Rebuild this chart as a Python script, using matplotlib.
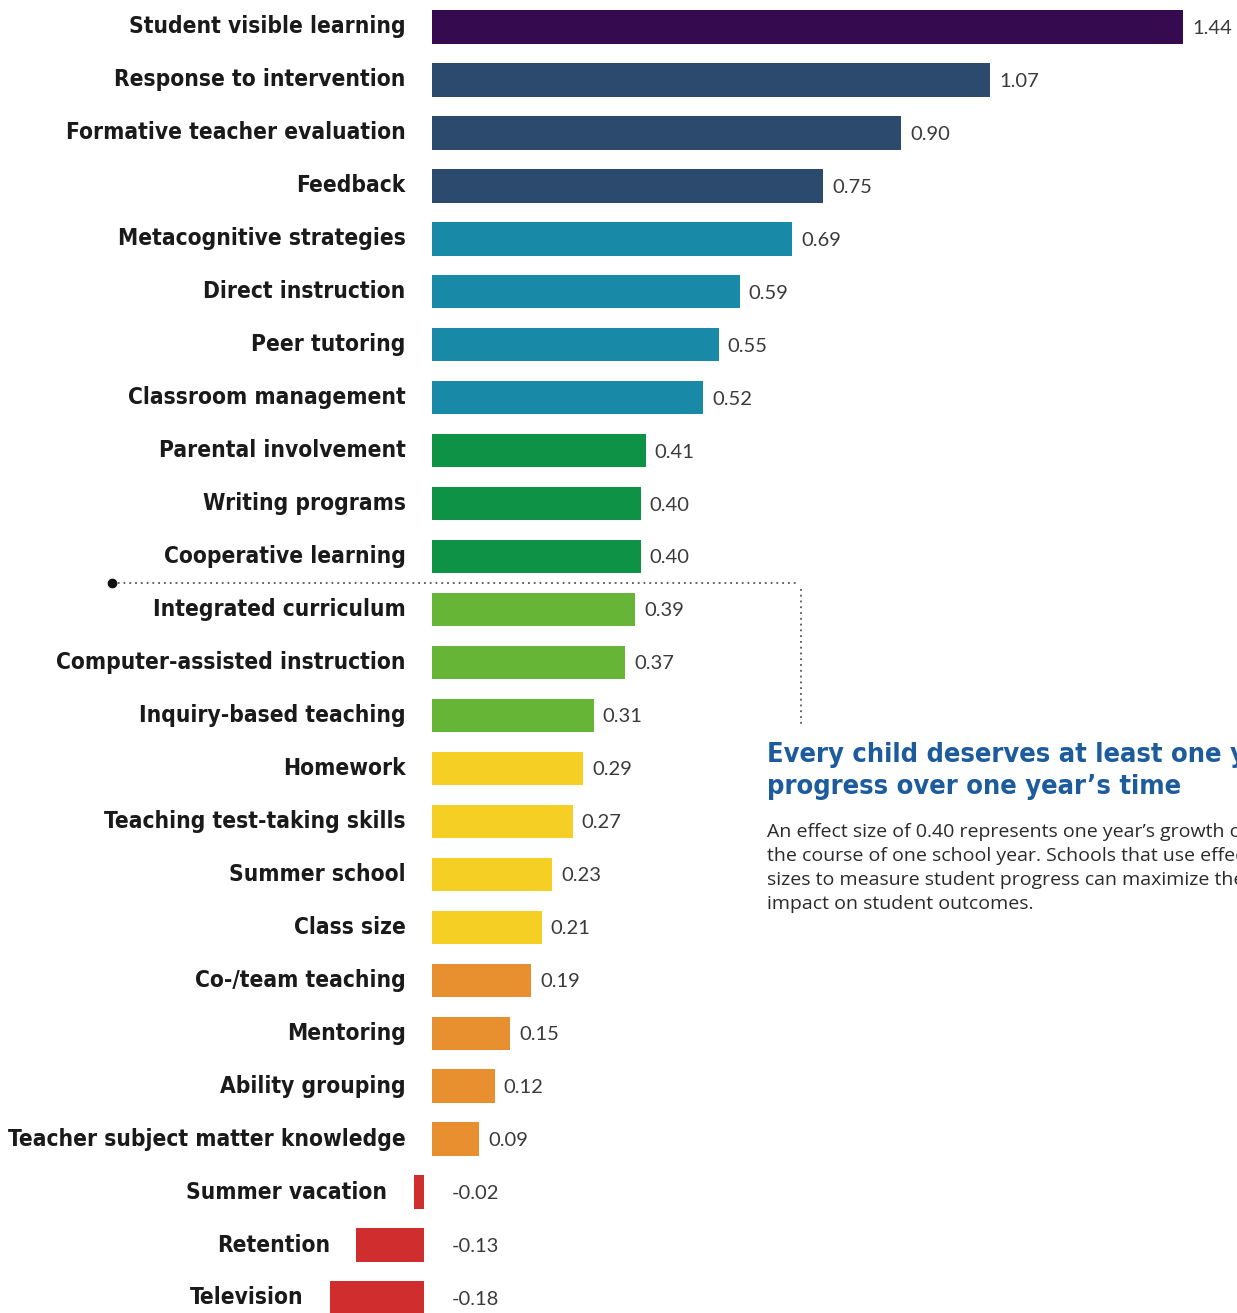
import matplotlib
matplotlib.use("Agg")
import matplotlib.pyplot as plt
from matplotlib import font_manager as fm

categories = [
    "Student visible learning", "Response to intervention", "Formative teacher evaluation",
    "Feedback", "Metacognitive strategies", "Direct instruction", "Peer tutoring",
    "Classroom management", "Parental involvement", "Writing programs",
    "Cooperative learning", "Integrated curriculum", "Computer-assisted instruction",
    "Inquiry-based teaching", "Homework", "Teaching test-taking skills", "Summer school",
    "Class size", "Co-/team teaching", "Mentoring", "Ability grouping",
    "Teacher subject matter knowledge", "Summer vacation", "Retention", "Television",
]
values = [1.44, 1.07, 0.90, 0.75, 0.69, 0.59, 0.55, 0.52, 0.41, 0.40, 0.40, 0.39, 0.37,
          0.31, 0.29, 0.27, 0.23, 0.21, 0.19, 0.15, 0.12, 0.09, -0.02, -0.13, -0.18]
value_labels = ["1.44", "1.07", "0.90", "0.75", "0.69", "0.59", "0.55", "0.52", "0.41",
                "0.40", "0.40", "0.39", "0.37", "0.31", "0.29", "0.27", "0.23", "0.21",
                "0.19", "0.15", "0.12", "0.09", "-0.02", "-0.13", "-0.18"]
groups = ["purple", "navy", "navy", "navy", "teal", "teal", "teal", "teal", "green", "green",
          "green", "lgreen", "lgreen", "lgreen", "yellow", "yellow", "yellow", "yellow",
          "orange", "orange", "orange", "orange", "red", "red", "red"]
palette = {"purple": "#350a4e", "navy": "#2c4a6d", "teal": "#188aa7", "green": "#0e9245",
           "lgreen": "#67b537", "yellow": "#f5cf24", "orange": "#e8902f", "red": "#d02e2e"}

title_text = "Every child deserves at least one year\u2019s\nprogress over one year\u2019s time"
body_text = ("An effect size of 0.40 represents one year\u2019s growth over\n"
             "the course of one school year. Schools that use effect\n"
             "sizes to measure student progress can maximize their\n"
             "impact on student outcomes.")


def find_condensed_bold():
    best = None
    for f in fm.fontManager.ttflist:
        nm = (f.name + " " + f.fname).lower()
        narrow = ("condensed" in nm or "narrow" in nm or
                  str(f.stretch) in ("condensed", "semi-condensed", "extra-condensed"))
        if not narrow:
            continue
        w = f.weight if isinstance(f.weight, int) else (700 if "bold" in str(f.weight) else 400)
        if "oblique" in nm or "italic" in nm or f.style != "normal":
            continue
        score = abs(w - 700)
        if best is None or score < best[0]:
            best = (score, f.fname)
    return best[1] if best else None


avail = {f.name for f in fm.fontManager.ttflist}
reg = [f for f in ["Lato", "Open Sans", "DejaVu Sans"] if f in avail]
body = [f for f in ["Open Sans", "Lato", "DejaVu Sans"] if f in avail]
cfile = find_condensed_bold()
if cfile:
    cat_fp = fm.FontProperties(fname=cfile, size=16.3)
    title_fp = fm.FontProperties(fname=cfile, size=19.5)
else:
    fam = [f for f in ["Roboto", "Liberation Sans", "DejaVu Sans"] if f in avail]
    cat_fp = fm.FontProperties(family=fam, weight="bold", size=15.5)
    title_fp = fm.FontProperties(family=fam, weight="bold", size=18.5)

W, H = 1237, 1313
fig = plt.figure(figsize=(W / 100, H / 100), dpi=100)
ax = fig.add_axes([0, 0, 1, 1])
ppu = (1183 - 432) / 1.44
ax.set_xlim(-432 / ppu, (W - 432) / ppu)
step = (1298 - 27) / 24
ax.set_ylim((H - 27) / step, -27 / step)
ax.axis("off")

ypos = list(range(len(categories)))
neg_gap = -8 / ppu
lefts = [0 if v >= 0 else neg_gap for v in values]
ax.barh(ypos, values, left=lefts, height=0.63,
        color=[palette[g] for g in groups], edgecolor="none")

for y, v, lab, cat, l in zip(ypos, values, value_labels, categories, lefts):
    start = v + l if v < 0 else 0
    ax.annotate(cat, (start, y), xytext=(-19, 0), textcoords="offset points",
                ha="right", va="center", fontproperties=cat_fp, color="#1a1a1a")
    xv = v if v > 0 else 0
    off = 6.5 if v > 0 else 14.5
    ax.annotate(lab, (xv, y), xytext=(off, -1), textcoords="offset points",
                ha="left", va="center", fontsize=14.5, family=reg, color="#3a3a3a")

# dotted callout
x0 = (112 - 432) / ppu
x1 = (798 - 432) / ppu
yh = 10.5
yv = (725 - 27) / step
ax.plot([x0, x1], [yh, yh], linestyle=(0, (1, 2.2)), color="#555555", lw=1.3)
ax.plot([x1 + 3 / ppu, x1 + 3 / ppu], [yh + 0.12, yv], linestyle=(0, (1, 2.2)),
        color="#555555", lw=1.3)
ax.plot([x0], [yh], "o", color="#111111", ms=6)

fig.text(767 / W, 1 - 742 / H, title_text, ha="left", va="top",
         fontproperties=title_fp, color="#1d5c9c", linespacing=1.32)
fig.text(767 / W, 1 - 823 / H, body_text, ha="left", va="top", fontsize=14,
         family=body, color="#2a2a2a", linespacing=1.42)

fig.savefig("out.png", dpi=100, facecolor="white")
